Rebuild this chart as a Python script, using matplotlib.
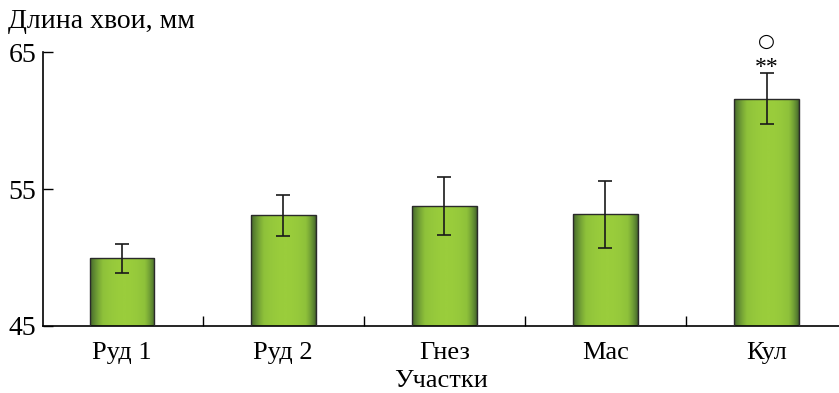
import numpy as np
import matplotlib
matplotlib.use('Agg')
import matplotlib.pyplot as plt
from matplotlib.colors import LinearSegmentedColormap

plt.rcParams['font.family'] = ['Liberation Serif', 'DejaVu Serif']

# data
sites = ['Руд 1', 'Руд 2', 'Гнез', 'Мас', 'Кул']
needle_len = [49.93, 53.08, 53.76, 53.15, 61.6]
err = [1.04, 1.5, 2.1, 2.45, 1.85]
y_ticks = [45, 55, 65]

fig = plt.figure(figsize=(8.39, 3.93), dpi=100)
ax = fig.add_axes([0.0516, 0.171, 0.9484, 0.696])

x = np.arange(len(sites))
bars = ax.bar(x, np.array(needle_len) - 45, bottom=45, width=0.40,
              facecolor='none', edgecolor='#2a2a2a', linewidth=1.0, zorder=3)

# horizontal "cylinder" shading inside each bar
cmap = LinearSegmentedColormap.from_list('g', ['#3f5a2a', '#608b32', '#8ec13a', '#9acd3c'])
t = np.linspace(0, 1, 200)
prof = np.clip(np.sin(np.pi * t ** 1.1) ** 0.6, 0, 1)
grad = prof[np.newaxis, :]
for b in bars:
    x0, y0 = b.get_x(), b.get_y()
    w, h = b.get_width(), b.get_height()
    im = ax.imshow(grad, cmap=cmap, vmin=0, vmax=1, aspect='auto',
                   extent=[x0, x0 + w, y0, y0 + h], zorder=2, interpolation='bilinear')
    im.set_clip_path(b)

ax.errorbar(x, needle_len, yerr=err, fmt='none', ecolor='#1a1a1a',
            elinewidth=1.2, capsize=5, capthick=1.2, zorder=4)

# significance marks above Кул
ax.text(4, 63.9, '**', ha='center', va='center', fontsize=17, clip_on=False)
ax.text(4, 65.8, '○', ha='center', va='center', fontsize=14,
        family=['DejaVu Sans'], clip_on=False)

ax.set_xlim(-0.49, 4.45)
ax.set_ylim(45, 65)
ax.set_yticks(y_ticks)
ax.set_yticklabels([str(v) for v in y_ticks], fontsize=20)
ax.tick_params(axis='y', direction='in', length=7, width=1.0, pad=5)

ax.set_xticks(x)
ax.set_xticklabels(sites, fontsize=19)
ax.tick_params(axis='x', length=0, pad=12)
ax.set_xticks(x[:-1] + 0.5, minor=True)
ax.tick_params(axis='x', which='minor', direction='in', length=7, width=1.0)

ax.spines['top'].set_visible(False)
ax.spines['right'].set_visible(False)
ax.spines['left'].set_linewidth(1.2)
ax.spines['bottom'].set_linewidth(1.2)

ax.set_xlabel('Участки', fontsize=19, labelpad=4)
fig.text(0.010, 0.945, 'Длина хвои, мм', fontsize=20, ha='left', va='center')

fig.savefig('out.png', dpi=100)
